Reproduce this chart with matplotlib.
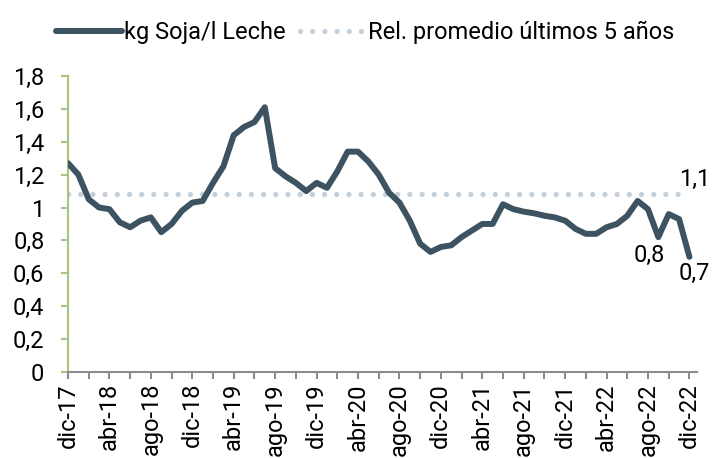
import matplotlib
matplotlib.use("Agg")
import matplotlib.pyplot as plt
import numpy as np

plt.rcParams['font.family'] = ['Roboto', 'DejaVu Sans']

# monthly series, dic-17 .. dic-22
soja_leche = [1.27, 1.20, 1.05, 1.00, 0.99, 0.91, 0.88, 0.92, 0.94, 0.85,
              0.90, 0.98, 1.03, 1.04, 1.15, 1.25, 1.44, 1.49, 1.52, 1.61,
              1.24, 1.19, 1.15, 1.10, 1.15, 1.12, 1.22, 1.34, 1.34, 1.28,
              1.20, 1.09, 1.03, 0.92, 0.78, 0.73, 0.76, 0.77, 0.82, 0.86,
              0.90, 0.90, 1.02, 0.99, 0.975, 0.965, 0.95, 0.94, 0.92, 0.87,
              0.84, 0.84, 0.88, 0.90, 0.95, 1.04, 0.99, 0.82, 0.96, 0.93,
              0.70]
promedio_5 = 1.08
tick_labels = ['dic-17', 'abr-18', 'ago-18', 'dic-18', 'abr-19', 'ago-19',
               'dic-19', 'abr-20', 'ago-20', 'dic-20', 'abr-21', 'ago-21',
               'dic-21', 'abr-22', 'ago-22', 'dic-22']
y_ticks = [0, 0.2, 0.4, 0.6, 0.8, 1, 1.2, 1.4, 1.6, 1.8]
y_labels = ['0', '0,2', '0,4', '0,6', '0,8', '1', '1,2', '1,4', '1,6', '1,8']

x = np.arange(len(soja_leche))
dark = '#3e5362'
dotc = '#c3cfda'

fig = plt.figure(figsize=(7.16, 4.58), dpi=100)
ax = fig.add_axes([0.095, 0.188, 0.878, 0.646])

ax.plot(x, [promedio_5] * len(x), color=dotc, lw=3.8,
        linestyle=(0, (0.01, 2.3)), dash_capstyle='round',
        label='Rel. promedio últimos 5 años', zorder=2)
ax.plot(x, soja_leche, color=dark, lw=4.3, solid_joinstyle='round',
        solid_capstyle='round', label='kg Soja/l Leche', zorder=3)

ax.set_ylim(0, 1.8)
ax.set_xlim(0, 60.7)
ax.set_yticks(y_ticks)
ax.set_yticklabels(y_labels, fontsize=17)
ax.set_xticks(np.arange(0, 61, 4))
ax.set_xticklabels(tick_labels, rotation=90, fontsize=17)
ax.set_xticks(np.arange(0, 61, 2), minor=True)

for s in ['top', 'right']:
    ax.spines[s].set_visible(False)
ax.spines['left'].set_color('#a9c47f')
ax.spines['left'].set_linewidth(1.5)
ax.spines['bottom'].set_color('#8c8c8c')
ax.spines['bottom'].set_linewidth(1.5)
ax.tick_params(axis='y', colors='#a9c47f', labelcolor='black', length=5,
               width=1.5, pad=12)
ax.tick_params(axis='x', which='both', colors='#8c8c8c', labelcolor='black',
               length=5, width=1.5, pad=3)

# data labels
ax.text(62.0, 1.17, '1,1', fontsize=17, ha='right', va='center')
ax.text(57.6, 0.71, '0,8', fontsize=17, ha='right', va='center')
ax.text(62.0, 0.60, '0,7', fontsize=17, ha='right', va='center')

h, l = ax.get_legend_handles_labels()
fig.legend(h[::-1], l[::-1], loc='upper center', bbox_to_anchor=(0.51, 1.0),
           ncol=2, frameon=False, fontsize=17, handlelength=2.8,
           handletextpad=0.1, columnspacing=0.6)

fig.savefig('out.png', dpi=100)
